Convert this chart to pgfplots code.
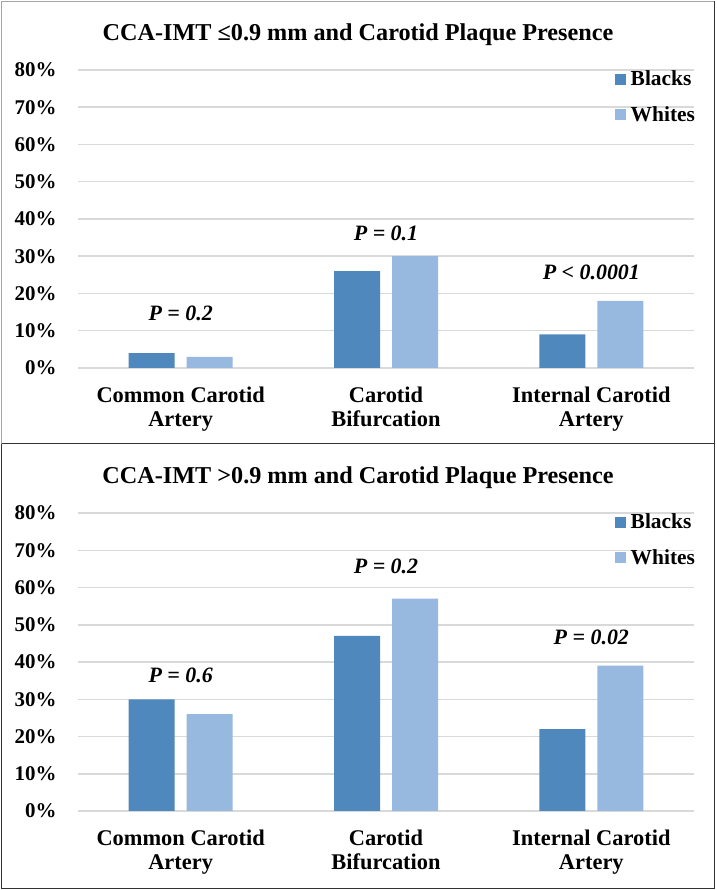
\documentclass[border=0pt]{standalone}
\usepackage{fontspec}
\setmainfont{Liberation Serif}
\usepackage{pgfplots}
\pgfplotsset{compat=1.18}
\definecolor{cblack}{HTML}{4F88BC}
\definecolor{cwhite}{HTML}{97B8DF}
\definecolor{gridc}{HTML}{D9D9D9}
\newcommand{\tickfont}{\fontsize{21}{24}\selectfont\bfseries}
\newcommand{\catfont}{\fontsize{22.5}{25}\selectfont\bfseries}
\newcommand{\pfont}{\fontsize{22}{25}\selectfont\bfseries\itshape}
\newcommand{\legfont}{\fontsize{21.5}{25}\selectfont\bfseries}
\newcommand{\ttlfont}{\fontsize{24.3}{28}\selectfont\bfseries}
\pgfplotsset{panel/.style={
  scale only axis, width=616bp, height=298bp,
  xmin=-0.5, xmax=2.5, ymin=0, ymax=80,
  axis line style={draw=none},
  ymajorgrids, major grid style={gridc, line width=1.5bp},
  ytick={0,10,...,80},
  yticklabels={0\%,10\%,20\%,30\%,40\%,50\%,60\%,70\%,80\%},
  yticklabel style={font=\tickfont, anchor=east, xshift=-18bp},
  xtick={0,1,2},
  xticklabels={Common Carotid\\Artery, Carotid\\Bifurcation, Internal Carotid\\Artery},
  xticklabel style={align=center, font=\catfont, anchor=north, yshift=-15bp},
  major tick length=0pt,
  ybar=12bp, bar width=46bp,
  enlarge x limits=false,
  title style={at={(0.4545,1.097)}, anchor=center, font=\ttlfont},
  legend image code/.code={\fill[#1] (0bp,-5.5bp) rectangle (11bp,5.5bp);},
  legend style={draw=none, fill=none, at={(1,1)}, anchor=north east,
    xshift=1bp, yshift=-1bp,
    font=\legfont, row sep=19bp, column sep=5bp, inner sep=0pt, outer sep=0pt,
    nodes={inner sep=0pt}},
  legend cell align=left,
}}
\begin{document}
\begin{tikzpicture}
\path[use as bounding box] (0,0) rectangle (717bp,890bp);
% frames
\draw[color=black!35, line width=1.3bp] (1.5bp,446bp) -- (1.5bp,888.5bp) -- (714.5bp,888.5bp);
\draw[color=black!80, line width=1.5bp] (714.5bp,888.5bp) -- (714.5bp,446bp);
\draw[color=black!80, line width=1.8bp] (1.5bp,446.5bp) -- (715bp,446.5bp);
\draw[color=black!80, line width=1.3bp] (1.5bp,446bp) -- (1.5bp,1.5bp) -- (714.5bp,1.5bp) -- (714.5bp,446bp);

\begin{axis}[panel, at={(78bp,522bp)}, anchor=south west,
  title={CCA-IMT ≤0.9 mm and Carotid Plaque Presence}]
\addplot[fill=cblack, draw=none] coordinates {(0,4) (1,26) (2,9)};
\addplot[fill=cwhite, draw=none] coordinates {(0,3) (1,30) (2,18)};
\legend{Blacks, Whites}
\node[font=\pfont] at (axis cs:0,14.7) {P = 0.2};
\node[font=\pfont] at (axis cs:1,36.2) {P = 0.1};
\node[font=\pfont] at (axis cs:2,25.7) {P < 0.0001};
\end{axis}

\begin{axis}[panel, at={(78bp,79bp)}, anchor=south west,
  title={CCA-IMT >0.9 mm and Carotid Plaque Presence}]
\addplot[fill=cblack, draw=none] coordinates {(0,30) (1,47) (2,22)};
\addplot[fill=cwhite, draw=none] coordinates {(0,26) (1,57) (2,39)};
\legend{Blacks, Whites}
\node[font=\pfont] at (axis cs:0,36.3) {P = 0.6};
\node[font=\pfont] at (axis cs:1,65.8) {P = 0.2};
\node[font=\pfont] at (axis cs:2,46.6) {P = 0.02};
\end{axis}
\end{tikzpicture}
\end{document}
